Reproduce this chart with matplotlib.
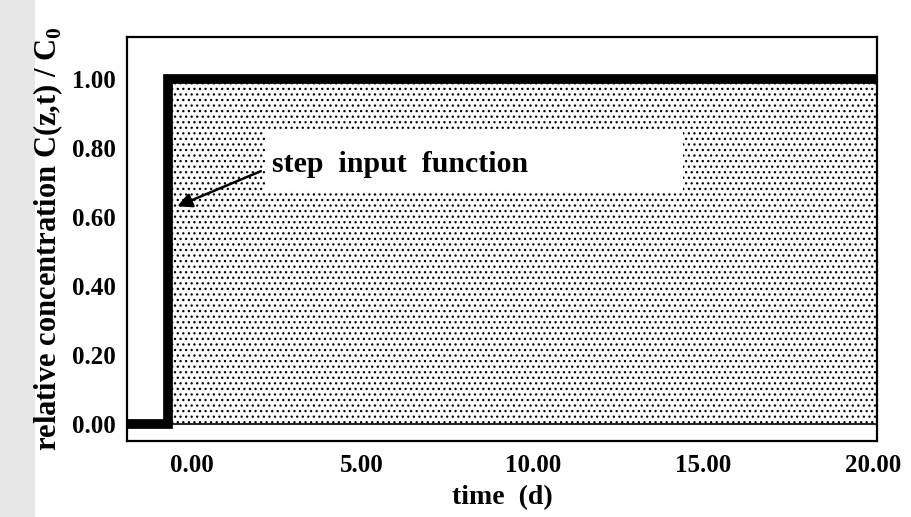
import matplotlib
matplotlib.use('Agg')
import matplotlib.pyplot as plt
from matplotlib.patches import Rectangle

# data
step_time = [-1.9, -0.7, -0.7, 20.1]
step_conc = [0.0, 0.0, 1.0, 1.0]
x_ticks = [0, 5, 10, 15, 20]
x_labels = ['0.00', '5.00', '10.00', '15.00', '20.00']
y_ticks = [0.0, 0.2, 0.4, 0.6, 0.8, 1.0]
y_labels = ['0.00', '0.20', '0.40', '0.60', '0.80', '1.00']

plt.rcParams['font.family'] = ['Liberation Serif', 'DejaVu Serif']
plt.rcParams['font.weight'] = 'bold'
plt.rcParams['hatch.linewidth'] = 0.9
plt.rcParams['mathtext.fontset'] = 'custom'
plt.rcParams['mathtext.bf'] = 'Liberation Serif:bold'

fig = plt.figure(figsize=(9.11, 5.17), dpi=100)
fig.patches.append(Rectangle((0, 0), 0.038, 1, transform=fig.transFigure,
                             facecolor='#e6e6e6', edgecolor='none', zorder=-5))
ax = fig.add_axes([0.1394, 0.147, 0.8233, 0.781])

# dotted area under the step
ax.fill_between(step_time[1:], 0, step_conc[1:], facecolor='white',
                edgecolor='black', hatch='...', linewidth=0, zorder=1)
ax.axhline(0, color='black', lw=1.2, zorder=2)
ax.plot(step_time, step_conc, color='black', lw=7, solid_joinstyle='miter',
        solid_capstyle='butt', zorder=3)

# label box and arrow
ax.add_patch(Rectangle((2.15, 0.676), 12.25, 0.174, facecolor='white',
                       edgecolor='none', zorder=4))
ax.text(2.35, 0.752, 'step  input  function', fontsize=21.5, fontweight='bold',
        va='center', ha='left', zorder=5)
ax.annotate('', xy=(-0.5, 0.627), xytext=(2.1, 0.735),
            arrowprops=dict(arrowstyle='-|>', color='black', lw=1.8,
                            mutation_scale=22), zorder=5)

ax.set_xlim(-1.9, 20.1)
ax.set_ylim(-0.05, 1.12)
ax.set_xticks(x_ticks)
ax.set_xticklabels(x_labels)
ax.set_yticks(y_ticks)
ax.set_yticklabels(y_labels)
ax.tick_params(axis='both', length=0, labelsize=18, pad=9)
ax.tick_params(axis='y', pad=8)
for s in ax.spines.values():
    s.set_linewidth(1.6)

ax.set_xlabel('time  (d)', fontsize=20, fontweight='bold', labelpad=6)
ax.set_ylabel(r'relative concentration C(z,t) / C$_\mathbf{0}$', fontsize=22,
              fontweight='bold', labelpad=5)

fig.savefig('out.png', dpi=100)
